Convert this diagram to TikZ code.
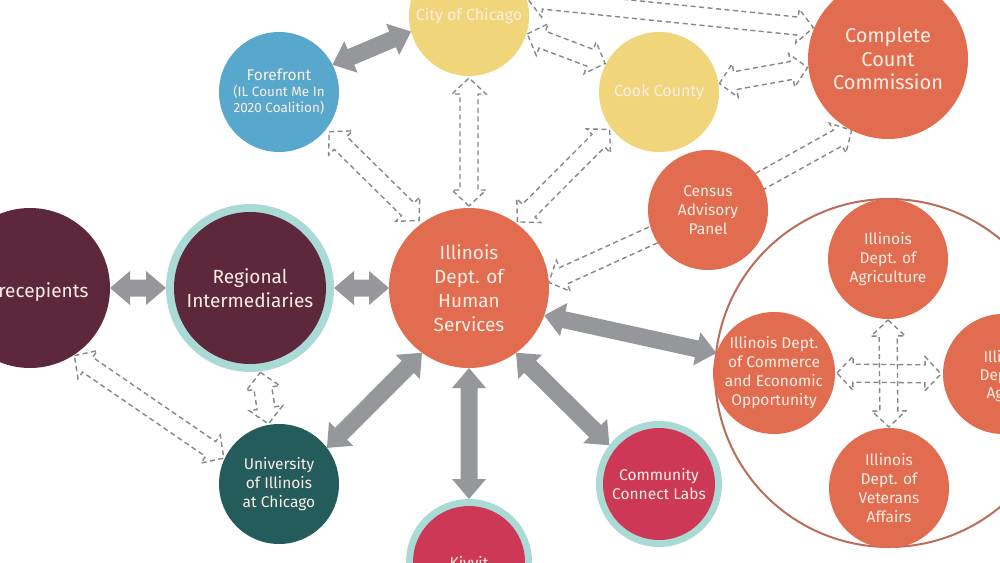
\documentclass[tikz,border=0pt]{standalone}
\usepackage{fontspec}
\setmainfont{Fira Sans}
\usetikzlibrary{calc}
\pgfdeclarelayer{back}
\pgfdeclarelayer{bg}
\pgfsetlayers{back,bg,main}
\definecolor{corange}{RGB}{226,108,80}
\definecolor{cyellow}{RGB}{240,213,122}
\definecolor{cblue}{RGB}{88,168,206}
\definecolor{cmaroon}{RGB}{94,40,60}
\definecolor{cring}{RGB}{170,218,214}
\definecolor{cteal}{RGB}{36,92,92}
\definecolor{ccrimson}{RGB}{204,56,86}
\definecolor{arrgray}{RGB}{150,151,155}
\definecolor{dashgray}{RGB}{135,135,135}
\definecolor{ringline}{RGB}{185,110,90}
\definecolor{txt}{RGB}{252,238,228}
% double-headed arrow shape: #1 style, #2 A, #3 B, #4 gap, #5 head length, #6 head half width, #7 shaft half width
\newcommand\dblarr[7]{%
  \path ($(#2)!#4!(#3)$) coordinate (arrA) ($(#3)!#4!(#2)$) coordinate (arrB);
  \path ($(arrA)!#5!(arrB)$) coordinate (arrHA) ($(arrB)!#5!(arrA)$) coordinate (arrHB);
  \draw[#1] (arrA) -- ($(arrHA)!#6!90:(arrB)$) -- ($(arrHA)!#7!90:(arrB)$)
    -- ($(arrHB)!#7!-90:(arrA)$) -- ($(arrHB)!#6!-90:(arrA)$) -- (arrB)
    -- ($(arrHB)!#6!90:(arrA)$) -- ($(arrHB)!#7!90:(arrA)$)
    -- ($(arrHA)!#7!-90:(arrB)$) -- ($(arrHA)!#6!-90:(arrB)$) -- cycle;}
% single-headed arrow shape, head at B
\newcommand\onearr[6]{%
  \path (#2) coordinate (arrA) (#3) coordinate (arrB);
  \path ($(arrB)!#4!(arrA)$) coordinate (arrHB);
  \draw[#1] ($(arrA)!#6!90:(arrB)$) -- ($(arrHB)!#6!-90:(arrA)$) -- ($(arrHB)!#5!-90:(arrA)$)
    -- (arrB) -- ($(arrHB)!#5!90:(arrA)$) -- ($(arrHB)!#6!90:(arrA)$) -- ($(arrA)!#6!-90:(arrB)$) -- cycle;}
\newcommand\sarr[2]{\dblarr{solidarr}{#1}{#2}{0pt}{20pt}{17pt}{8.5pt}}
\newcommand\darr[3]{\dblarr{dasharr}{#1}{#2}{#3}{16pt}{17pt}{9pt}}
\newcommand\fsmall{\fontsize{13.5}{16}\selectfont}
\begin{document}
\begin{tikzpicture}[x=1pt,y=-1pt,
  circ/.style={circle, inner sep=-30pt, outer sep=0pt, text=txt, align=center,
    font=\fontsize{15.5}{19}\selectfont},
  bigtext/.style={font=\fontsize{19}{24}\selectfont},
  midtext/.style={font=\fontsize{16}{19}\selectfont},
  hugetext/.style={font=\fontsize{20}{23.5}\selectfont},
  solidarr/.style={fill=arrgray, draw=none},
  dasharr/.style={draw=dashgray, line width=1.4pt, dash pattern=on 5pt off 3.5pt, line join=miter},
  grpring/.style={circle, draw=ringline, line width=2pt, inner sep=0pt, outer sep=0pt}]
\useasboundingbox (0,0) rectangle (1000,562);
\begin{pgfonlayer}{back}
\fill[white] (0,0) rectangle (1000,562);
\end{pgfonlayer}
\clip (0,0) rectangle (1000,562);

% circles
\node[circ, fill=cmaroon, minimum size=160] (rec) at (30,288) {};
\node[anchor=base east, text=txt, bigtext] (rectext) at (92,297) {recepients};
\node[circ, fill=cring, minimum size=168] (reg) at (250,288) {};
\node[circ, fill=cmaroon, minimum size=152, bigtext] (regin) at (reg) {Regional\\Intermediaries};
\node[circ, fill=corange, minimum size=160, bigtext] (dhs) at (469,288) {Illinois\\Dept. of\\Human\\Services};
\node[circ, fill=cyellow, minimum size=120, midtext] (city) at (469,16) {City of Chicago};
\node[circ, fill=cblue, minimum size=120] (fore) at (279,92)
  {Forefront\\[-3pt]{\fsmall (IL Count Me In}\\[-3pt]{\fsmall 2020 Coalition)}};
\node[circ, fill=cyellow, minimum size=120, midtext] (cook) at (659,92) {Cook County};
\node[circ, fill=corange, minimum size=160, hugetext] (ccc) at (888,59) {Complete\\Count\\Commission};
\node[circ, fill=corange, minimum size=120] (cap) at (708,210) {Census\\Advisory\\Panel};
\node[circ, fill=corange, minimum size=120] (agr) at (888,259) {Illinois\\Dept. of\\Agriculture};
\node[circ, fill=corange, minimum size=122] (com) at (774,373) {Illinois Dept.\\of Commerce\\and Economic\\Opportunity};
\node[circ, fill=corange, minimum size=120] (vet) at (889,488) {Illinois\\Dept. of\\Veterans\\Affairs};
\node[circ, fill=corange, minimum size=120] (aging) at (1003,374) {};
\node[anchor=base west, text=txt, font=\fontsize{15.5}{19}\selectfont] (agt1) at (980,362) {Illi};
\node[anchor=base west, text=txt, font=\fontsize{15.5}{19}\selectfont] (agt2) at (976,380) {Dep};
\node[anchor=base west, text=txt, font=\fontsize{15.5}{19}\selectfont] (agt3) at (983,398) {Ag};
\node[circ, fill=cteal, minimum size=120] (uic) at (279,484) {University\\of Illinois\\at Chicago};
\node[circ, fill=cring, minimum size=126] (kiv) at (469,562) {};
\node[circ, fill=ccrimson, minimum size=112] (kivin) at (kiv) {};
\node[anchor=base, text=txt, font=\fontsize{15.5}{19}\selectfont] (kivtext) at (469,568) {Kivvit};
\node[circ, fill=cring, minimum size=126] (ccl) at (659,484) {};
\node[circ, fill=ccrimson, minimum size=112] (cclin) at (ccl) {Community\\Connect Labs};

\begin{pgfonlayer}{bg}
\node[grpring, minimum size=348] (grp) at (889,373) {};
% solid arrows
\sarr{fore.27}{city.195}
\sarr{rec.0}{reg.180}
\sarr{reg.0}{dhs.180}
\sarr{dhs.234}{uic.37}
\sarr{dhs.270}{kiv.90}
\sarr{dhs.306}{ccl.142}
\sarr{dhs.-20}{com.161}
% dashed arrows
\darr{dhs.90}{city.270}{2pt}
\darr{fore.-38}{dhs.126}{4pt}
\darr{dhs.54}{cook.217}{2pt}
\darr{city.-17}{cook.152}{1pt}
\darr{city.17}{ccc.157}{1pt}
\darr{cook.8}{ccc.186}{1pt}
\darr{reg.-83}{uic.100}{1pt}
\darr{rec.-57}{uic.155}{1pt}
\darr{agr.270}{vet.90}{1pt}
\darr{com.0}{aging.180}{2pt}
\onearr{dasharr}{cap}{dhs.4}{16pt}{17pt}{9pt}
\onearr{dasharr}{cap}{ccc.243}{16pt}{17pt}{9pt}
\end{pgfonlayer}
\end{tikzpicture}
\end{document}
